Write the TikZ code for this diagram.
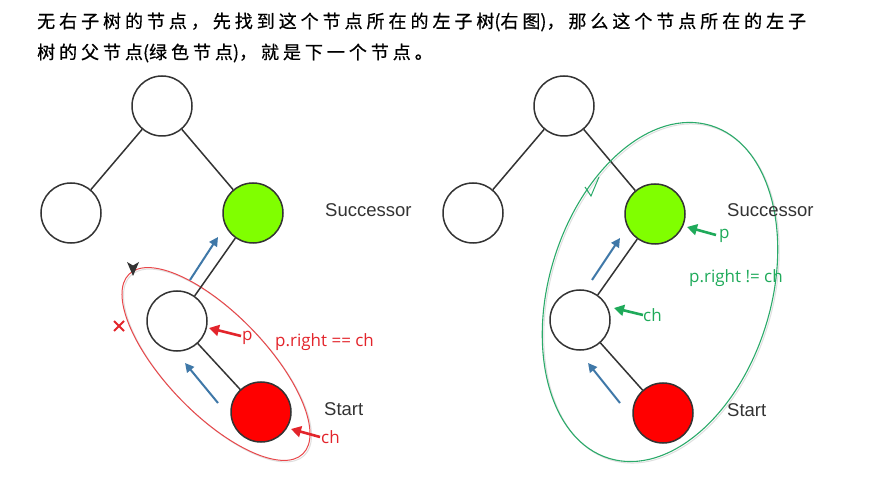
\documentclass[tikz,border=0pt]{standalone}
\usepackage{fontspec}
\setmainfont{Liberation Sans}
\newfontfamily\cjkfont[LetterSpace=22,FakeBold=0.6]{Noto Sans CJK SC}
\newfontfamily\cjkplain[FakeBold=0.6]{Noto Sans CJK SC}
\newcommand{\pl}[1]{{\cjkplain #1}}
\newfontfamily\osfont{Open Sans}
\usetikzlibrary{arrows.meta}
\definecolor{edgegray}{HTML}{333333}
\definecolor{lime}{HTML}{80FF00}
\definecolor{nodered}{HTML}{FF0000}
\definecolor{arrowblue}{HTML}{3F78A8}
\definecolor{labred}{HTML}{E3242B}
\definecolor{labgreen}{HTML}{1FAA5A}
\definecolor{ringgreen}{HTML}{2BAA6A}
\definecolor{ringred}{HTML}{E8474A}
\begin{document}
\begin{tikzpicture}[x=1pt,y=-1pt,
  tnode/.style={circle, draw=edgegray, line width=1.5pt, minimum size=60pt, inner sep=0pt, fill=white},
  tedge/.style={draw=edgegray, line width=1.5pt},
  bluearrow/.style={draw=arrowblue, line width=2pt, -{Triangle[length=9pt,width=9pt]}},
  redarrow/.style={draw=labred, line width=2.6pt, -{Triangle[length=10pt,width=11pt]}},
  greenarrow/.style={draw=labgreen, line width=2.6pt, -{Triangle[length=10pt,width=11pt]}},
  graylabel/.style={text=edgegray, font=\fontsize{18.5}{20}\selectfont, inner sep=0pt, anchor=base west},
  redlabel/.style={text=labred, font=\osfont\fontsize{17}{19}\selectfont, inner sep=0pt, anchor=base west},
  greenlabel/.style={text=labgreen, font=\osfont\fontsize{17}{19}\selectfont, inner sep=0pt, anchor=base west},
  cjktext/.style={font=\cjkfont\fontsize{18}{20}\selectfont, inner sep=0pt, anchor=west}
]
\useasboundingbox[fill=white] (0,0) rectangle (887,481);

% heading
\node[cjktext] (line1) at (37,22) {无右子树的节点，先找到这个节点所在的左子树\pl{(}右图\pl{)}，那么这个节点所在的左子};
\node[cjktext] (line2) at (37,53) {树的父节点\pl{(}绿色节点\pl{)}，就是下一个节点。};

% ellipses (left)
\draw[gray!25, line width=1pt, rotate around={-46:(217.5,365.5)}] (217.5,365.5) ellipse [x radius=125pt, y radius=50pt];
\draw[ringred, line width=1pt, rotate around={-46:(216,364)}] (216,364) ellipse [x radius=125pt, y radius=50pt];

% left tree
\node[tnode] (t1) at (162,106) {};
\node[tnode] (l1) at (71,213) {};
\node[tnode, fill=lime] (g1) at (253,213) {};
\node[tnode] (m1) at (177,321) {};
\node[tnode, fill=nodered] (r1) at (261,412) {};
\draw[tedge] (t1) -- (l1);
\draw[tedge] (t1) -- (g1);
\draw[tedge] (g1) -- (m1);
\draw[tedge] (m1) -- (r1);

\node[graylabel] (succ1) at (325,217) {Successor};
\node[graylabel] (start1) at (324,415) {Start};

\coordinate (ba1s) at (190,280); \coordinate (ba1e) at (218,237);
\coordinate (bb1s) at (218,403); \coordinate (bb1e) at (185,363);
\draw[bluearrow] (ba1s) -- (ba1e);
\draw[bluearrow] (bb1s) -- (bb1e);

\node[redlabel] (p1) at (242,341) {p};
\node[redlabel] (ch1) at (321,443) {ch};
\node[redlabel] (cond1) at (275,347) {p.right == ch};
\coordinate (rp1s) at (241,336); \coordinate (rp1e) at (209,328);
\coordinate (rc1s) at (320,437); \coordinate (rc1e) at (291,429);
\draw[redarrow] (rp1s) -- (rp1e);
\draw[redarrow] (rc1s) -- (rc1e);

% marks on red ring
\fill[edgegray] (127,262) -- (133,265.5) -- (139,262) -- (133,276) -- cycle;
\draw[labred, line width=1.8pt] (114,321) -- (124,331) (124,321) -- (114,331);

% right tree
\draw[gray!25, line width=1pt, rotate around={73:(661.5,293.5)}] (661.5,293.5) ellipse [x radius=174pt, y radius=111pt];

\node[tnode] (t2) at (564,106) {};
\node[tnode] (l2) at (473,213) {};
\node[tnode, fill=lime] (g2) at (655,214) {};
\node[tnode] (m2) at (580,320) {};
\node[tnode, fill=nodered] (r2) at (663,413) {};
\draw[tedge] (t2) -- (l2);
\draw[tedge] (t2) -- (g2);
\draw[tedge] (g2) -- (m2);
\draw[tedge] (m2) -- (r2);

\draw[ringgreen, line width=1.1pt, rotate around={73:(660,292)}] (660,292) ellipse [x radius=174pt, y radius=111pt];
\draw[ringgreen, line width=1pt] (585,187) -- (591,196) -- (599,177);

\node[graylabel] (succ2) at (727,217) {Successor};
\node[graylabel] (start2) at (727,416) {Start};

\coordinate (ba2s) at (592,280); \coordinate (ba2e) at (620,238);
\coordinate (bb2s) at (620,403); \coordinate (bb2e) at (588,363);
\draw[bluearrow] (ba2s) -- (ba2e);
\draw[bluearrow] (bb2s) -- (bb2e);

\node[greenlabel] (p2) at (719,239) {p};
\node[greenlabel] (cond2) at (689,283) {p.right != ch};
\node[greenlabel] (ch2) at (643,322) {ch};
\coordinate (gp2s) at (716,235); \coordinate (gp2e) at (687,227);
\coordinate (gc2s) at (643,315); \coordinate (gc2e) at (614,308);
\draw[greenarrow] (gp2s) -- (gp2e);
\draw[greenarrow] (gc2s) -- (gc2e);
\end{tikzpicture}
\end{document}
